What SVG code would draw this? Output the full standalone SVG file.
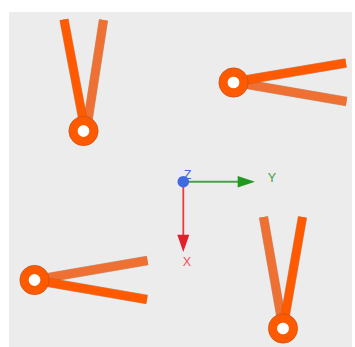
<svg xmlns="http://www.w3.org/2000/svg" width="355" height="347" viewBox="0 0 355 347">
<style>
.arm{stroke-width:8.4;stroke-linecap:butt;fill:none}
.a1{stroke:#ff5a00}
.a2{stroke:#ee7032}
.edge{stroke:#a04a20;stroke-width:9.4;opacity:.5;fill:none}
.ring{fill:none;stroke:#ff5a00;stroke-width:9}
.ringo{fill:none;stroke:#a04a20;stroke-width:.8;opacity:.6}
.hole{fill:#fff}
text{font-family:"Liberation Sans",Arial,sans-serif;font-size:12.5px;text-anchor:middle}
</style>
<rect x="9" y="12" width="343" height="335" fill="#ececec"/>
<g id="hinge-top-left">
<line class="edge" x1="88" y1="120" x2="103.5" y2="20"/><line class="arm a2" x1="88" y1="120" x2="103.5" y2="20"/>
<line class="edge" x1="83" y1="120" x2="64" y2="19.500"/><line class="arm a1" x1="83" y1="120" x2="64" y2="19.500"/>
<circle class="ring" cx="83.500" cy="131" r="10.200"/><circle class="ringo" cx="83.500" cy="131" r="14.700"/><circle class="hole" cx="83.500" cy="131" r="5.800"/>
</g>
<g id="hinge-top-right">
<line class="edge" x1="245" y1="84" x2="346.500" y2="101.500"/><line class="arm a2" x1="245" y1="84" x2="346.500" y2="101.500"/>
<line class="edge" x1="245" y1="80" x2="346" y2="63"/><line class="arm a1" x1="245" y1="80" x2="346" y2="63"/>
<circle class="ring" cx="233.500" cy="82.500" r="10.200"/><circle class="ringo" cx="233.500" cy="82.500" r="14.700"/><circle class="hole" cx="233.500" cy="82.500" r="5.800"/>
</g>
<g id="hinge-bottom-left">
<line class="edge" x1="46" y1="278" x2="147.500" y2="260.500"/><line class="arm a2" x1="46" y1="278" x2="147.500" y2="260.500"/>
<line class="edge" x1="46" y1="282" x2="147" y2="299.500"/><line class="arm a1" x1="46" y1="282" x2="147" y2="299.500"/>
<circle class="ring" cx="34.500" cy="280" r="10.200"/><circle class="ringo" cx="34.500" cy="280" r="14.700"/><circle class="hole" cx="34.500" cy="280" r="5.800"/>
</g>
<g id="hinge-bottom-right">
<line class="edge" x1="281" y1="317" x2="263.500" y2="217"/><line class="arm a2" x1="281" y1="317" x2="263.500" y2="217"/>
<line class="edge" x1="285" y1="317" x2="302.500" y2="217"/><line class="arm a1" x1="285" y1="317" x2="302.500" y2="217"/>
<circle class="ring" cx="283" cy="328.500" r="10.200"/><circle class="ringo" cx="283" cy="328.500" r="14.700"/><circle class="hole" cx="283" cy="328.500" r="5.800"/>
</g>
<g id="labels">
<text x="187.500" y="179" fill="#4169e1">Z</text>
<text x="272" y="181.500" fill="#3fa03f">Y</text>
<text x="187" y="265.500" fill="#f0505a">X</text>
</g>
<g id="axes">
<line x1="183" y1="181.700" x2="240" y2="181.700" stroke="#4a9f4a" stroke-width="2"/>
<polygon points="237.700,176 255,181.700 237.700,187.400" fill="#1f9a1f"/>
<line x1="183.300" y1="181.700" x2="183.300" y2="238" stroke="#ee3a3f" stroke-width="1.800"/>
<polygon points="177.300,234.700 189.300,234.700 183.300,252" fill="#e0202a"/>
<circle cx="183.300" cy="181.700" r="5.800" fill="#4169e1"/>
</g>
</svg>
